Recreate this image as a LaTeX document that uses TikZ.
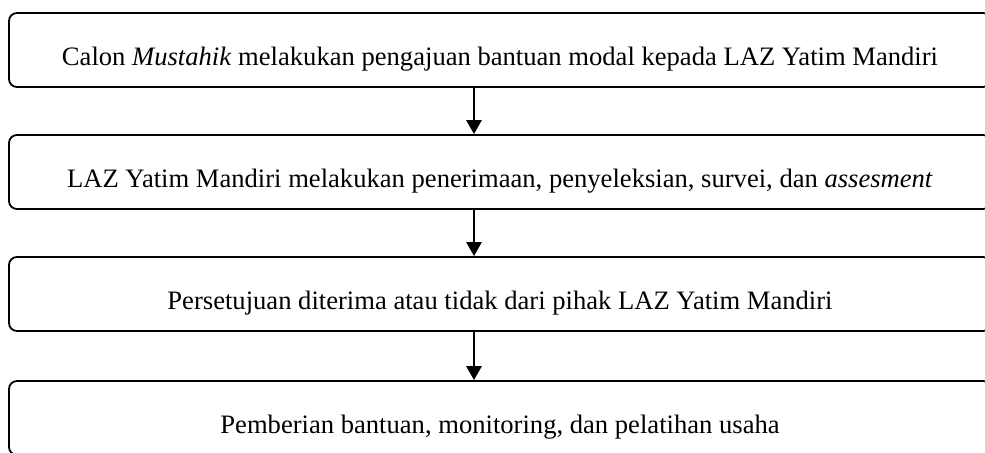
\documentclass[tikz,border=0pt]{standalone}
\usepackage{fontspec}
\setmainfont{Liberation Serif}
\usetikzlibrary{arrows.meta}

\begin{document}
\begin{tikzpicture}[x=0.5pt,y=-0.5pt,
    stepbox/.style={draw,line width=0.9pt,rounded corners=4pt,
      minimum width=491pt,minimum height=37pt,inner sep=0pt,
      text height=15pt,text depth=0pt,
      font=\fontsize{13.3}{16}\selectfont},
    flow/.style={line width=1.4pt,-{Triangle[width=7.5pt,length=7pt]}}]
    \useasboundingbox (0,0) rectangle (985,452);
    \clip (0,0) rectangle (985,452);

    % draw boxes
    \node[stepbox] (ajuan) at (500,50) {Calon \textit{Mustahik} melakukan pengajuan bantuan modal kepada LAZ Yatim Mandiri};
    \node[stepbox] (seleksi) at (500,172) {LAZ Yatim Mandiri melakukan penerimaan, penyeleksian, survei, dan \textit{assesment}};
    \node[stepbox] (setuju) at (500,294) {Persetujuan diterima atau tidak dari pihak LAZ Yatim Mandiri};
    \node[stepbox] (beri) at (500,418) {Pemberian bantuan, monitoring, dan pelatihan usaha};

    % draw arrows
    \coordinate (ax) at (474,0);
    \draw[flow] (ajuan.south -| ax) -- (seleksi.north -| ax);
    \draw[flow] (seleksi.south -| ax) -- (setuju.north -| ax);
    \draw[flow] (setuju.south -| ax) -- (beri.north -| ax);

  \end{tikzpicture}
\end{document}
